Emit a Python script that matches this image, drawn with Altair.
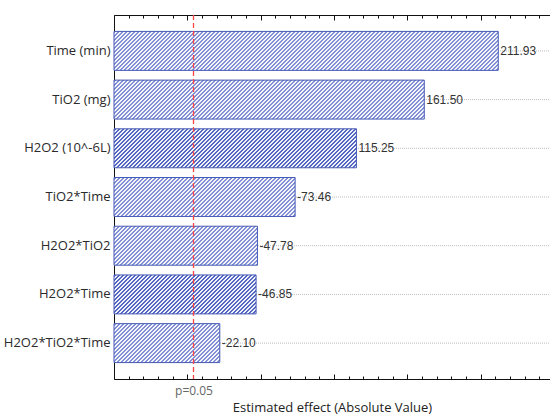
import json
import altair as alt
import pandas as pd

# ---------------- data ----------------
terms = ["Time (min)", "TiO2 (mg)", "H2O2 (10^-6L)", "TiO2*Time",
         "H2O2*TiO2", "H2O2*Time", "H2O2*TiO2*Time"]
effects = [211.93, 161.50, 115.25, -73.46, -47.78, -46.85, -22.10]
p_threshold = 4.2
p_label = "p=0.05"
x_title = "Estimated effect (Absolute Value)"
x_domain = [-50, 247.2]
major_step = 50
minor_step = 10

# ---------------- layout / style ----------------
PLOT_W, PLOT_H = 436, 364
PAD_INNER, PAD_OUTER = 0.2, 0.337
DENSE_TERMS = {"H2O2 (10^-6L)", "H2O2*Time"}
BAR_STROKE = "#4659b5"
LIGHT = dict(period=4.0, dark=2.0, line_col="#8390d3", bg_col="#f5f6fc")
DENSE = dict(period=4.0, dark=2.0, line_col="#5567c2", bg_col="#f0f2fa")
P_COLOR = "#ff4545"
LABEL_FONT = "Open Sans"
VALUE_FONT = "Liberation Sans"

df = pd.DataFrame({"term": terms, "effect": effects})
df["abs_effect"] = df["effect"].abs()
df["label"] = [f"{v:.2f}" for v in effects]
df["start"] = x_domain[0]


def hatch(width_px, height_px, phase, period, dark, line_col, bg_col):
    """Diagonal hatching as a linear gradient with hard stops (bbox units)."""
    denom = width_px ** 2 + height_px ** 2
    stops = []
    s = phase - period
    limit = width_px + height_px + period

    def off(val):
        return round(max(0.0, min(1.0, height_px * val / denom)), 7)

    while s < limit:
        a, b, c = off(s), off(s + dark), off(s + period)
        stops += [{"offset": a, "color": line_col}, {"offset": b, "color": line_col},
                  {"offset": b, "color": bg_col}, {"offset": c, "color": bg_col}]
        s += period
    return {"gradient": "linear", "x1": 0, "y1": 0,
            "x2": width_px / height_px, "y2": 1, "stops": stops}


n = len(terms)
step = PLOT_H / (n - PAD_INNER + 2 * PAD_OUTER)
bar_h = step * (1 - PAD_INNER)
k = PLOT_W / (x_domain[1] - x_domain[0])

conds = []
for i, (t, v) in enumerate(zip(terms, effects)):
    w = (abs(v) - x_domain[0]) * k
    top = PAD_OUTER * step + i * step
    # put stripe edges half-way between pixel centres
    phase = (0.5 - (top % 1.0)) % 1.0
    style = DENSE if t in DENSE_TERMS else LIGHT
    conds.append({"test": f"datum.term === {json.dumps(t)}",
                  "value": hatch(w, bar_h, phase, **style)})
fill_enc = alt.FillValue(value="#c0c7e8", condition=conds)

xs = alt.Scale(domain=x_domain, nice=False, zero=False)
ys = alt.Scale(paddingInner=PAD_INNER, paddingOuter=PAD_OUTER, round=False)
tick_vals = list(range(x_domain[0], 241, minor_step))
tick_size = {"condition": {"test": f"datum.value % {major_step} === 0", "value": 5},
             "value": 3}

y_axis = alt.Axis(orient="left", title=None, ticks=False, domain=True,
                  domainColor="#111", labelFont=LABEL_FONT, labelFontSize=13,
                  labelColor="#2a2a2a", labelPadding=4, labelLimit=300)
y_enc = alt.Y("term:N", sort=terms, scale=ys, axis=y_axis)

base = alt.Chart(df)

grid = base.mark_rule(color="#bdbdbd", strokeDash=[1, 1], strokeWidth=1).encode(
    y=y_enc,
    x=alt.X("start:Q", scale=xs, axis=None),
    x2=alt.X2(datum=x_domain[1]),
)

bars = base.mark_bar(stroke=BAR_STROKE, strokeWidth=1).encode(
    y=y_enc,
    x=alt.X("abs_effect:Q", scale=xs,
            axis=alt.Axis(orient="bottom", values=[p_threshold],
                          labelExpr=f"'{p_label}'", ticks=False, grid=False,
                          domain=True, domainColor="#111",
                          labelFont=LABEL_FONT, labelFontSize=12, labelColor="#666",
                          labelPadding=6, title=x_title, titleFont=LABEL_FONT,
                          titleFontSize=13, titleFontWeight="normal",
                          titleColor="#222", titlePadding=5)),
    x2=alt.X2("start:Q"),
    fill=fill_enc,
)

labels = base.mark_text(align="left", baseline="middle", dx=2,
                        font=VALUE_FONT, fontSize=12, color="#333").encode(
    y=y_enc,
    x=alt.X("abs_effect:Q", scale=xs,
            axis=alt.Axis(orient="top", offset=-PLOT_H, values=tick_vals,
                          tickSize=tick_size, tickColor="#111", labels=False,
                          domain=False, grid=False, title=None)),
    text="label:N",
)

pdf = pd.DataFrame({"p": [p_threshold]})
pline = alt.Chart(pdf).mark_rule(stroke=P_COLOR, color=P_COLOR, strokeDash=[5, 3],
                                 strokeWidth=1.3, opacity=1).encode(
    x=alt.X("p:Q", scale=xs,
            axis=alt.Axis(orient="bottom", offset=-PLOT_H, values=tick_vals,
                          tickSize=tick_size, tickColor="#111", labels=False,
                          domain=True, domainColor="#111", grid=False, title=None)),
)

chart = alt.layer(grid, bars, labels, pline).resolve_axis(x="independent").properties(
    width=PLOT_W, height=PLOT_H,
    autosize=alt.AutoSizeParams(type="none"),
    padding={"left": 114, "top": 15, "right": 0, "bottom": 38},
    background="white",
).configure_view(stroke=None)

chart.save("out.html", embed_options={"renderer": "svg", "actions": False})
